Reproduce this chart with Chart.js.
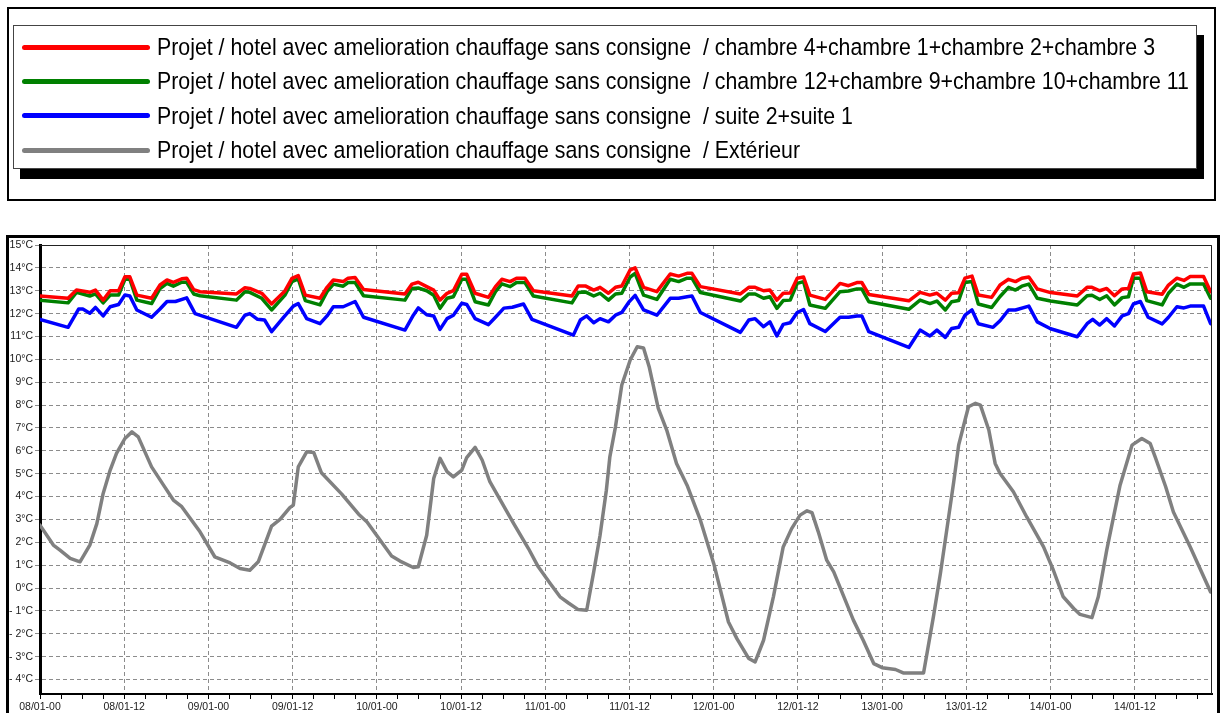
<!DOCTYPE html>
<html><head><meta charset="utf-8">
<script src="https://cdn.jsdelivr.net/npm/chart.js@4.4.1/dist/chart.umd.min.js"></script>
<style>
html,body{margin:0;padding:0;background:#fff;width:1221px;height:713px;overflow:hidden;}
#legendOuter{position:absolute;left:7px;top:7px;width:1209px;height:194px;border:2px solid #000;box-sizing:border-box;}
#legendInner{position:absolute;left:13px;top:25px;width:1184px;height:144px;border:1px solid #444;box-sizing:border-box;background:#fff;box-shadow:7px 10px 0 #000;}
.swatch{position:absolute;left:8px;width:128px;height:5px;border-radius:3px;}
.label{position:absolute;left:143px;white-space:pre;font-family:"Liberation Sans",Arial,sans-serif;font-size:24.5px;line-height:28px;transform-origin:0 50%;color:#000;}
#frame{position:absolute;left:6px;top:235px;width:1214px;height:490px;border:3px solid #000;box-sizing:border-box;pointer-events:none;}
canvas{position:absolute;left:0;top:0;}
</style>
</head><body>
<canvas id="c" width="1221" height="713"></canvas>
<div id="legendOuter"></div>
<div id="legendInner"></div>
<div id="frame"></div>
<script>
const seriesNames = [
  "Projet / hotel avec amelioration chauffage sans consigne  / chambre 4+chambre 1+chambre 2+chambre 3",
  "Projet / hotel avec amelioration chauffage sans consigne  / chambre 12+chambre 9+chambre 10+chambre 11",
  "Projet / hotel avec amelioration chauffage sans consigne  / suite 2+suite 1",
  "Projet / hotel avec amelioration chauffage sans consigne  / Extérieur"
];
const seriesColors = ["#ff0000", "#008000", "#0000ff", "#808080"];

const xTickLabels = ["08/01-00","08/01-12","09/01-00","09/01-12","10/01-00","10/01-12","11/01-00","11/01-12","12/01-00","12/01-12","13/01-00","13/01-12","14/01-00","14/01-12"];
const xTickHours = [0,3,6,9,12,15,18,21,24,27,30,33,36,39,42,45,48,51,54,57,60,63,66,69,72,75,78,81,84,87,90,93,96,99,102,105,108,111,114,117,120,123,126,129,132,135,138,141,144,147,150,153,156,159,162,165];
const yTickValues = [-4,-3,-2,-1,0,1,2,3,4,5,6,7,8,9,10,11,12,13,14,15];

const redHours = [0,4.0,5.2,7.1,7.9,9.0,10.0,11.2,12.1,12.8,13.8,15.9,17.1,18.1,19.0,20.2,20.9,21.9,22.8,28.0,29.2,29.9,31.6,33.0,34.9,35.9,36.8,37.8,39.9,40.9,41.8,43.2,43.9,44.9,46.1,52.0,53.0,53.9,55.1,56.1,57.0,58.0,58.9,60.1,60.8,62.0,63.9,64.9,65.8,67.0,67.9,69.1,70.3,75.8,76.7,77.7,78.9,79.8,81.0,82.0,82.9,84.1,84.8,86.0,87.9,89.8,91.0,92.2,92.9,94.1,99.8,101.0,101.9,103.1,104.0,105.0,105.9,106.9,107.9,108.8,109.7,111.9,114.0,115.2,116.4,117.1,118.1,123.8,125.4,126.8,127.8,129.0,129.9,130.9,131.8,132.8,133.7,135.6,136.8,138.0,139.0,139.9,140.9,142.1,144.0,147.8,149.2,149.9,151.0,152.0,153.1,154.2,155.1,155.8,156.8,157.7,159.9,160.8,162.0,163.0,163.9,165.8,166.8];
const redTemps = [12.77,12.67,13.03,12.93,13.03,12.59,13.0,13.0,13.61,13.61,12.81,12.67,13.25,13.47,13.37,13.52,13.55,13.05,12.96,12.86,13.13,13.1,12.89,12.42,12.99,13.54,13.66,12.81,12.67,13.15,13.47,13.4,13.55,13.58,13.05,12.86,13.29,13.37,13.18,13.03,12.59,12.89,13.0,13.72,13.72,12.89,12.71,13.18,13.5,13.4,13.55,13.55,13.0,12.77,13.21,13.21,13.03,13.15,12.89,13.15,13.21,13.91,14.0,13.15,12.96,13.73,13.64,13.76,13.76,13.18,12.86,13.15,13.15,13.0,13.03,12.59,12.89,12.9,13.55,13.6,12.81,12.62,13.32,13.22,13.36,13.36,12.84,12.56,12.93,12.81,12.89,12.59,12.89,12.91,13.55,13.64,12.81,12.71,13.25,13.5,13.4,13.55,13.6,13.08,12.92,12.77,13.15,13.15,13.0,13.1,12.78,13.08,13.1,13.73,13.78,12.96,12.85,13.25,13.55,13.45,13.62,13.62,12.96];

const greenHours = redHours;
const greenTemps = [12.59,12.47,12.93,12.77,12.86,12.47,12.81,12.81,13.5,13.5,12.59,12.44,13.1,13.32,13.2,13.37,13.37,12.86,12.78,12.59,12.96,12.93,12.67,12.16,12.81,13.4,13.52,12.57,12.38,12.96,13.29,13.2,13.36,13.36,12.78,12.59,13.1,13.12,13.0,12.8,12.23,12.67,12.74,13.5,13.5,12.52,12.38,12.96,13.3,13.18,13.36,13.36,12.77,12.47,12.92,12.95,12.77,12.89,12.59,12.86,12.89,13.6,13.76,12.81,12.62,13.5,13.4,13.55,13.55,12.92,12.55,12.86,12.86,12.67,12.74,12.23,12.57,12.59,13.32,13.4,12.38,12.23,12.96,12.99,13.08,13.08,12.52,12.19,12.59,12.44,12.55,12.16,12.52,12.57,13.36,13.4,12.42,12.27,12.75,13.15,13.03,13.2,13.29,12.67,12.55,12.38,12.78,12.8,12.62,12.78,12.38,12.7,12.74,13.55,13.55,12.57,12.38,12.89,13.29,13.15,13.3,13.3,12.67];

const blueHours = [0,4.0,5.5,6.1,7.1,7.9,9.0,10.0,11.2,12.1,12.8,13.8,15.9,17.1,18.1,19.3,20.9,22.1,28.0,29.2,29.9,31.0,32.0,33.0,34.7,36.1,36.8,38.0,39.9,40.9,41.8,43.2,44.9,46.1,52.0,53.2,53.9,55.1,56.1,57.0,58.0,58.9,60.1,60.8,62.0,63.9,64.9,66.1,67.3,68.9,70.1,76.0,77.0,77.9,78.9,79.8,81.0,82.0,82.9,83.9,84.8,86.0,87.9,89.8,91.0,92.2,92.9,94.1,99.8,101.0,101.9,103.1,104.0,105.0,105.9,106.9,107.9,108.8,109.7,111.9,114.0,115.2,116.4,117.1,118.1,123.8,125.4,126.8,127.8,129.0,129.9,130.9,131.8,132.8,133.7,135.8,136.8,138.0,139.0,140.9,142.1,144.0,147.8,149.2,150.0,151.0,152.0,153.1,154.2,155.1,155.8,156.8,157.9,159.9,160.8,162.0,163.0,163.9,165.8,166.8];
const blueTemps = [11.75,11.4,12.2,12.2,12.02,12.27,11.9,12.3,12.4,12.81,12.77,12.16,11.84,12.2,12.53,12.53,12.69,12.0,11.4,11.93,12.0,11.75,11.72,11.21,11.84,12.33,12.44,11.78,11.56,11.9,12.3,12.3,12.53,11.84,11.28,11.93,12.25,11.95,11.9,11.31,11.78,11.93,12.45,12.4,11.78,11.52,11.84,12.24,12.28,12.42,11.75,11.06,11.72,11.9,11.6,11.78,11.64,11.93,12.05,12.5,12.8,12.16,11.93,12.67,12.67,12.74,12.77,12.05,11.18,11.72,11.78,11.43,11.64,11.02,11.53,11.6,12.05,12.18,11.56,11.22,11.84,11.84,11.9,11.9,11.21,10.52,11.28,11.02,11.28,10.96,11.35,11.4,11.93,12.16,11.56,11.4,11.69,12.16,12.16,12.33,11.64,11.34,10.99,11.56,11.75,11.5,11.78,11.46,11.9,12.0,12.42,12.53,11.84,11.55,11.84,12.3,12.25,12.33,12.33,11.56];

const grayHours = [0,1.9,2.85,4.3,5.7,7.1,8.1,9.0,10.0,10.9,12.1,13.1,14.0,15.9,17.6,19.0,20.2,22.8,24.9,27.1,28.5,29.9,31.1,33.0,34.2,35.6,36.1,36.8,38.0,39.0,40.1,43.0,45.4,46.6,50.1,51.3,53.2,53.9,55.1,56.1,57.0,58.0,58.9,60.1,60.8,62.0,63.0,64.1,67.5,69.6,71.0,72.7,74.1,75.3,76.7,77.9,78.9,79.8,80.7,81.2,82.0,82.9,84.1,85.1,86.0,86.8,88.1,89.3,90.7,92.2,94.1,96.0,98.1,99.3,101.0,101.9,103.1,104.5,105.9,107.1,108.3,109.3,110.0,110.9,112.1,113.1,115.9,117.3,118.8,120.0,121.9,123.0,125.9,127.3,128.3,129.2,130.2,130.9,131.8,132.3,133.3,134.0,135.2,136.1,136.8,138.7,140.6,143.0,144.4,145.8,147.3,148.2,149.9,150.8,152.0,153.9,155.6,157.0,158.2,158.9,160.4,161.5,163.9,166.8];
const grayTemps = [2.75,1.88,1.66,1.3,1.15,1.88,2.82,4.14,5.16,5.89,6.54,6.83,6.61,5.3,4.5,3.85,3.56,2.46,1.37,1.1,0.86,0.78,1.15,2.71,3.0,3.52,3.63,5.3,5.96,5.93,5.04,4.11,3.23,2.89,1.4,1.18,0.9,0.93,2.31,4.79,5.67,5.09,4.86,5.16,5.7,6.15,5.6,4.65,2.82,1.73,0.93,0.2,-0.38,-0.65,-0.94,-0.97,0.71,2.3,4.28,5.74,7.05,8.88,9.97,10.55,10.5,9.68,7.86,6.91,5.45,4.5,2.97,1.08,-1.48,-2.21,-3.08,-3.23,-2.28,-0.38,1.8,2.6,3.19,3.38,3.3,2.46,1.22,0.71,-1.4,-2.28,-3.3,-3.48,-3.56,-3.71,-3.71,-1.26,0.64,2.53,4.65,6.25,7.34,7.93,8.08,8.0,6.91,5.45,5.01,4.21,3.11,1.8,0.78,-0.38,-0.89,-1.15,-1.29,-0.38,1.66,4.5,6.25,6.54,6.32,5.74,4.43,3.33,1.8,-0.17];

function pts(hours, temps){ return hours.map((h,i)=>({x:h, y:temps[i]})); }

// Legend (HTML)
const inner = document.getElementById('legendInner');
const rowCenters = [21, 55, 89.5, 124];
const labelEls = [];
seriesNames.forEach((name,i)=>{
  const sw = document.createElement('div');
  sw.className='swatch'; sw.style.background=seriesColors[i]; sw.style.top=(rowCenters[i]-2.5)+'px';
  inner.appendChild(sw);
  const lb = document.createElement('div');
  lb.className='label'; lb.textContent=name; lb.style.top=(rowCenters[i]-14)+'px';
  inner.appendChild(lb); labelEls.push(lb);
});
const w0 = labelEls[0].getBoundingClientRect().width;
const sx = 998 / w0;
labelEls.forEach(l=>{ l.style.transform='scaleX('+sx+')'; });

const frameLines = {
  id:'frameLines',
  afterDraw(chart){
    const {ctx, chartArea:a} = chart;
    ctx.save();
    ctx.strokeStyle='#222'; ctx.lineWidth=1;
    ctx.beginPath();
    ctx.moveTo(a.left, Math.round(a.top)+0.5);
    ctx.lineTo(Math.round(a.right)-0.5, Math.round(a.top)+0.5);
    ctx.lineTo(Math.round(a.right)-0.5, a.bottom);
    ctx.stroke();
    ctx.restore();
  }
};

const tickFont = {family:'"Liberation Sans", Arial, sans-serif', size:10.5};
const gridGray = '#8c8c8c';

new Chart(document.getElementById('c'), {
  type:'line',
  data:{
    datasets:[
      {label:seriesNames[0], data:pts(redHours,redTemps), borderColor:seriesColors[0]},
      {label:seriesNames[1], data:pts(greenHours,greenTemps), borderColor:seriesColors[1]},
      {label:seriesNames[2], data:pts(blueHours,blueTemps), borderColor:seriesColors[2]},
      {label:seriesNames[3], data:pts(grayHours,grayTemps), borderColor:seriesColors[3]}
    ]
  },
  options:{
    responsive:false, animation:false, devicePixelRatio:1,
    layout:{padding:{left:0, top:245, right:9, bottom:0}},
    elements:{line:{borderWidth:3.5, tension:0, borderJoinStyle:'round', borderCapStyle:'round'}, point:{radius:0}},
    plugins:{legend:{display:false}, tooltip:{enabled:false}},
    scales:{
      x:{
        type:'linear', min:0, max:167,
        afterBuildTicks(s){ s.ticks = xTickHours.map(v=>({value:v})); },
        afterFit(s){ s.height = 19; },
        ticks:{autoSkip:false, maxRotation:0, minRotation:0, padding:2, color:'#1a1a1a', font:tickFont,
          callback:(v)=> (v % 12 === 0 ? xTickLabels[v/12] : '')},
        grid:{color:(c)=> (c.tick && c.tick.value % 12 === 0 ? gridGray : 'rgba(0,0,0,0)'), lineWidth:1, tickLength:5, tickColor:'#000', tickWidth:1},
        border:{display:true, color:'#000', width:2, dash:[4,3]}
      },
      y:{
        type:'linear', min:-4.63, max:15,
        afterBuildTicks(s){ s.ticks = yTickValues.map(v=>({value:v})); },
        afterFit(s){ s.width = 40; },
        ticks:{padding:2, color:'#1a1a1a', font:{family:'"Liberation Sans", Arial, sans-serif', size:10.5},
          callback:(v)=> (v < 0 ? '- ' + (-v) + '°C' : v + '°C')},
        grid:{color:gridGray, lineWidth:1, tickLength:5, tickColor:gridGray},
        border:{display:true, color:'#000', width:3, dash:[4,3]}
      }
    }
  },
  plugins:[frameLines]
});
</script>
</body></html>
